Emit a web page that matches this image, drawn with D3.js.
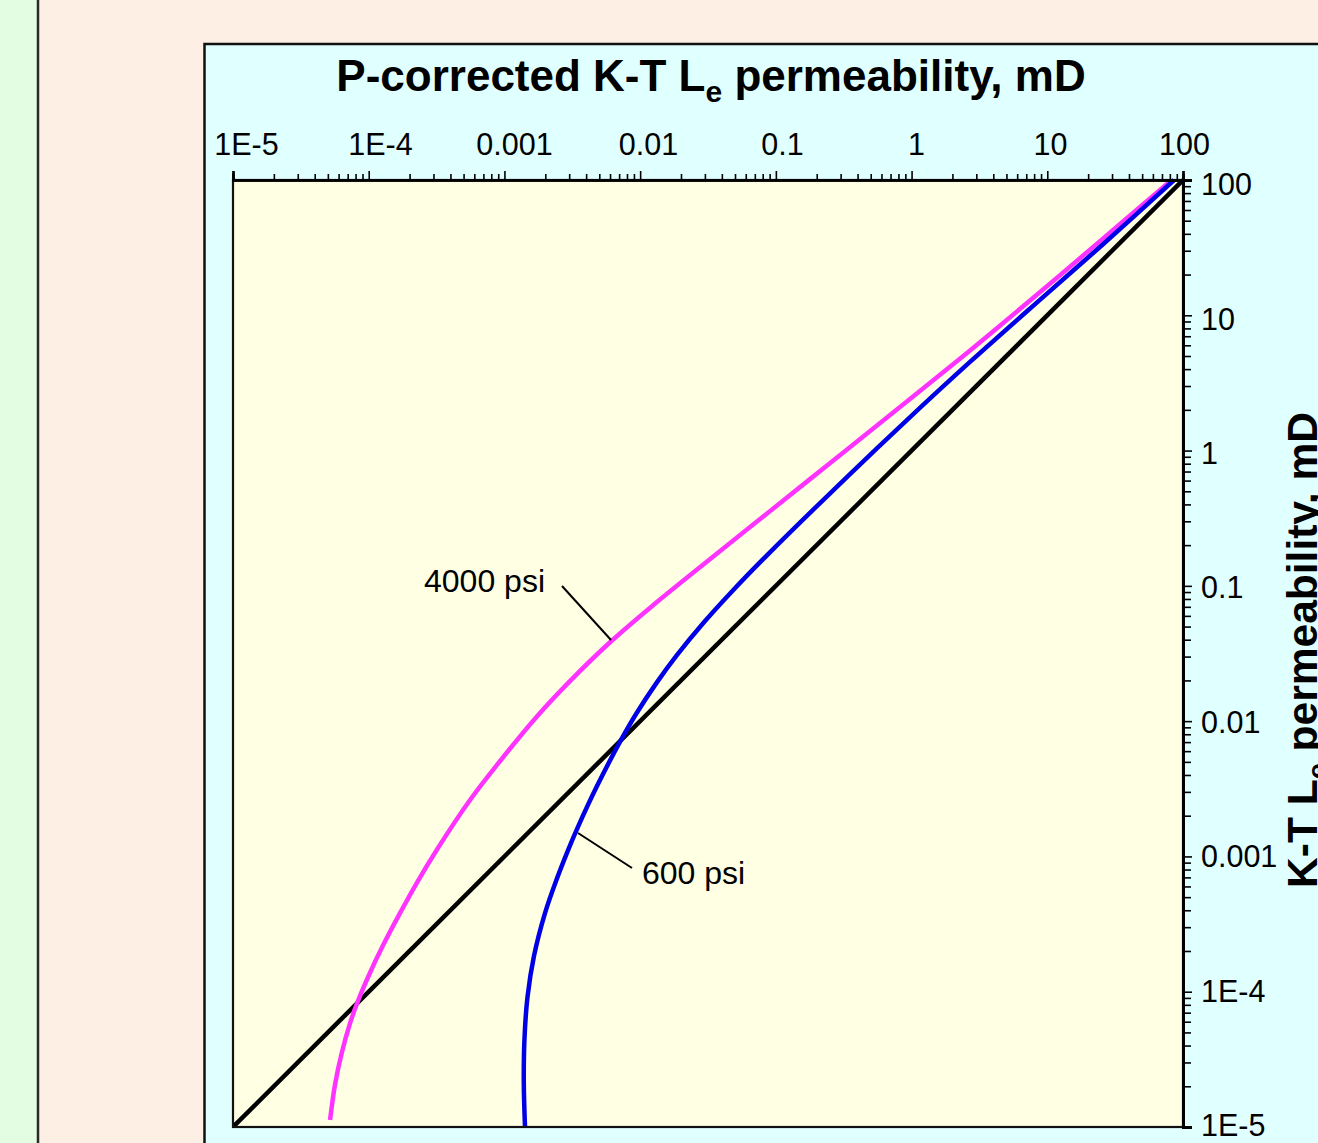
<!DOCTYPE html>
<html>
<head>
<meta charset="utf-8">
<script src="https://cdn.jsdelivr.net/npm/d3@7"></script>
<style>
  html, body { margin: 0; padding: 0; overflow: hidden; background: #FDEFE3; }
  svg { display: block; font-family: "Liberation Sans", Arial, sans-serif; }
</style>
</head>
<body>
<svg id="chart" width="1318" height="1143"></svg>
<script>
// Decade ticks shared by both log axes
const decadeValues = [1e-5, 1e-4, 1e-3, 1e-2, 1e-1, 1, 10, 100];
const tickLabels = ["1E-5", "1E-4", "0.001", "0.01", "0.1", "1", "10", "100"];

// 1:1 reference line (same value on both axes)
const identityLine = [1e-5, 100];

// 4000 psi: P-corrected permeability (x) against K-T Le permeability (y), mD
const pc4000 = [5.19e-5, 5.64e-5, 6.32e-5, 7.28e-5, 8.38e-5, 1.022e-4, 1.281e-4, 1.70e-4, 2.258e-4, 3.17e-4,
                5.58e-4, 9.81e-4, 1.729e-3, 3.04e-3, 6.0e-3, 1.25e-2, 3.46e-2, 8.56e-2, 0.265, 0.822,
                2.549, 7.89, 22.47, 82.6];
const kt4000 = [1.126e-5, 2.044e-5, 3.506e-5, 5.83e-5, 8.66e-5, 1.382e-4, 2.222e-4, 3.81e-4, 6.36e-4, 1.116e-3,
                2.613e-3, 5.43e-3, 1.079e-2, 1.977e-2, 3.83e-2, 7.21e-2, 0.1648, 0.3408, 0.845, 2.096,
                5.25, 13.47, 32.85, 100];

// 600 psi
const pc600 = [1.418e-3, 1.389e-3, 1.405e-3, 1.479e-3, 1.651e-3, 1.991e-3, 2.44e-3, 2.94e-3, 3.425e-3, 4.81e-3,
               7.23e-3, 9.43e-3, 1.325e-2, 1.86e-2, 2.921e-2, 4.86e-2, 8.56e-2, 0.352, 0.895, 2.695,
               9.35, 24.9, 86];
const kt600 = [1.0e-5, 2.114e-5, 4.47e-5, 9.14e-5, 1.834e-4, 3.81e-4, 6.88e-4, 1.110e-3, 1.592e-3, 3.31e-3,
               7.26e-3, 1.149e-2, 1.927e-2, 3.06e-2, 5.31e-2, 9.32e-2, 0.1674, 0.671, 1.632, 4.52,
               13.69, 32.5, 100];

const seriesNames = ["4000 psi", "600 psi"];
const seriesColors = ["#FF33FF", "#0000E6"];

const svg = d3.select("#chart");
const W = 1318, H = 1143;

// Page background: green strip, divider, peach body
svg.append("rect").attr("x", 0).attr("y", 0).attr("width", W).attr("height", H).attr("fill", "#FDEFE3");
svg.append("rect").attr("x", 0).attr("y", 0).attr("width", 37).attr("height", H).attr("fill", "#E2FDE2");
svg.append("line").attr("x1", 38).attr("x2", 38).attr("y1", 0).attr("y2", H)
  .attr("stroke", "#2a2a2a").attr("stroke-width", 2.5);

// Chart panel
svg.append("rect").attr("x", 204.5).attr("y", 44).attr("width", W).attr("height", H)
  .attr("fill", "#E0FFFF").attr("stroke", "#111").attr("stroke-width", 2.5);

// Plot area
const plot = { left: 233, right: 1183, top: 180, bottom: 1127 };
const x = d3.scaleLog().domain([1e-5, 100]).range([plot.left, plot.right]);
const y = d3.scaleLog().domain([1e-5, 100]).range([plot.bottom, plot.top]);

svg.append("rect").attr("x", plot.left).attr("y", plot.top)
  .attr("width", plot.right - plot.left).attr("height", plot.bottom - plot.top)
  .attr("fill", "#FFFFE4");

// Curves
svg.append("clipPath").attr("id", "plotClip").append("rect")
  .attr("x", plot.left).attr("y", plot.top - 3)
  .attr("width", plot.right - plot.left).attr("height", plot.bottom - plot.top + 3);
const gCurves = svg.append("g").attr("clip-path", "url(#plotClip)");

gCurves.append("path")
  .attr("d", d3.line().x(d => x(d)).y(d => y(d))(identityLine))
  .attr("fill", "none").attr("stroke", "#000").attr("stroke-width", 4.5);

const curve = d3.line().x(d => x(d[0])).y(d => y(d[1])).curve(d3.curveCatmullRom.alpha(0.5));
[[pc4000, kt4000], [pc600, kt600]].forEach(([xs, ys], i) => {
  gCurves.append("path")
    .attr("d", curve(xs.map((v, j) => [v, ys[j]])))
    .attr("fill", "none").attr("stroke", seriesColors[i]).attr("stroke-width", 4.5)
    .attr("stroke-linejoin", "round");
});

// Plot border
svg.append("rect").attr("x", plot.left).attr("y", plot.top)
  .attr("width", plot.right - plot.left).attr("height", plot.bottom - plot.top)
  .attr("fill", "none").attr("stroke", "#111").attr("stroke-width", 2.2);

// Minor ticks (2..9 in each decade)
const minorValues = [];
decadeValues.slice(0, -1).forEach(d => { for (let k = 2; k <= 9; k++) minorValues.push(d * k); });

// Tick labels are spread evenly along each axis
const topLabelPos = d3.scaleLinear().domain([-5, 2]).range([246, 1184]);
const rightLabelPos = d3.scaleLinear().domain([-5, 2]).range([1125, 184]);

// Top axis
const gTop = svg.append("g").attr("transform", `translate(0,${plot.top})`);
gTop.append("g").call(d3.axisTop(x).tickValues(minorValues).tickSize(6).tickFormat(""));
const topMajor = gTop.append("g").call(
  d3.axisTop(x).tickValues(decadeValues).tickSize(9).tickFormat((d, i) => tickLabels[i]));
topMajor.selectAll("text")
  .attr("y", -25).attr("dy", "0")
  .attr("dx", d => topLabelPos(Math.log10(d)) - x(d));
gTop.selectAll(".domain").attr("stroke-width", 2.6);

// Right axis
const gRight = svg.append("g").attr("transform", `translate(${plot.right},0)`);
gRight.append("g").call(d3.axisRight(y).tickValues(minorValues).tickSize(8).tickFormat(""));
const rightMajor = gRight.append("g").call(
  d3.axisRight(y).tickValues(decadeValues).tickSize(9).tickFormat((d, i) => tickLabels[i]));
rightMajor.selectAll("text")
  .attr("x", 18).attr("text-anchor", "start")
  .attr("y", d => rightLabelPos(Math.log10(d)) - y(d)).attr("dy", "0.35em");
gRight.selectAll(".domain").attr("stroke-width", 3);

svg.selectAll(".tick line").attr("stroke", "#000").attr("stroke-width", 1.6);
svg.selectAll(".domain").attr("stroke", "#000");
svg.selectAll(".tick text").attr("fill", "#000")
  .style("font-family", "'Liberation Sans', Arial, sans-serif").style("font-size", "30.5px");

// Axis titles
const topTitle = svg.append("text")
  .attr("x", 711).attr("y", 91).attr("text-anchor", "middle")
  .style("font-size", "44px").style("font-weight", "bold").attr("fill", "#000");
topTitle.append("tspan").text("P-corrected K-T L");
topTitle.append("tspan").attr("dy", 11).style("font-size", "30px").text("e");
topTitle.append("tspan").attr("dy", -11).text(" permeability, mD");

const rightTitle = svg.append("text")
  .attr("transform", "translate(1317,650) rotate(-90)").attr("text-anchor", "middle")
  .style("font-size", "42.5px").style("font-weight", "bold").attr("fill", "#000");
rightTitle.append("tspan").text("K-T L");
rightTitle.append("tspan").attr("dy", 11).style("font-size", "29px").text("e");
rightTitle.append("tspan").attr("dy", -11).text(" permeability, mD");

// Series annotations with leader lines
const notes = [
  { text: seriesNames[0], tx: 424, ty: 592, from: [562, 586], to: [611, 640] },
  { text: seriesNames[1], tx: 642, ty: 884, from: [632, 868], to: [578, 833] }
];
notes.forEach(n => {
  svg.append("text").attr("x", n.tx).attr("y", n.ty)
    .style("font-size", "32px").attr("fill", "#000").text(n.text);
  svg.append("line").attr("x1", n.from[0]).attr("y1", n.from[1])
    .attr("x2", n.to[0]).attr("y2", n.to[1])
    .attr("stroke", "#000").attr("stroke-width", 2);
});
</script>
</body>
</html>
